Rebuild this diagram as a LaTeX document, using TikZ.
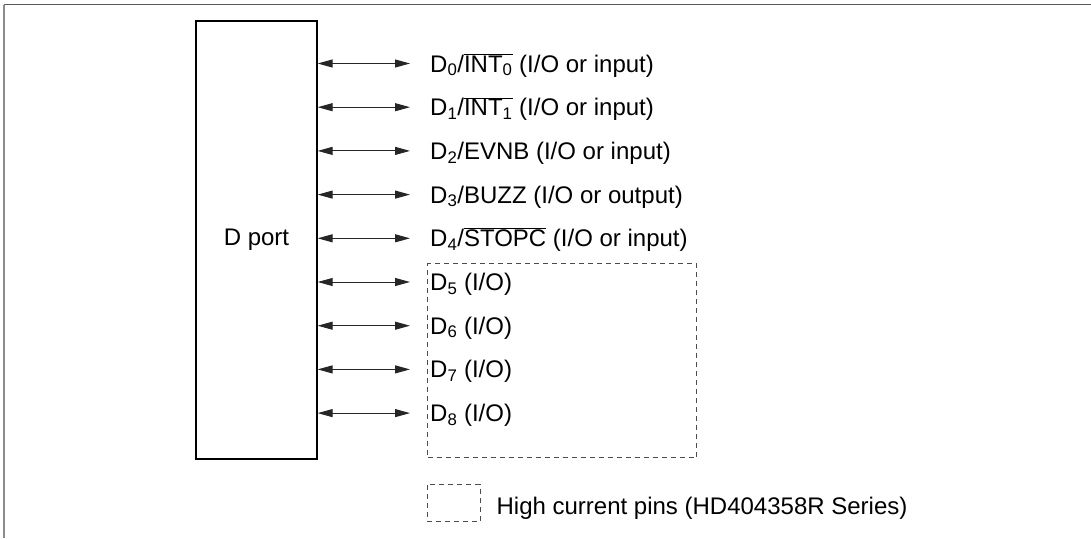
\documentclass[tikz,border=0pt]{standalone}
\usepackage{fontspec}
\setmainfont{Liberation Sans}
\usetikzlibrary{arrows.meta}
\newcommand{\ovl}[1]{$\overline{\mbox{#1}}$}
\begin{document}
\begin{tikzpicture}[x=1pt,y=-1pt,
  font=\fontsize{24}{29}\selectfont,
  frame/.style={line width=1.6pt},
  port/.style={draw, line width=1.3pt, minimum width=121pt, minimum height=438pt, inner sep=0pt},
  pinlbl/.style={anchor=base west, inner sep=0pt},
  link/.style={line width=1pt, black!85, {Triangle[length=15pt,width=8pt]}-{Triangle[length=15pt,width=8pt]}},
  hc/.style={draw=black!70, dash pattern=on 5pt off 4pt, line width=1pt, inner sep=0pt}]
\useasboundingbox (0,0) rectangle (1091,538);
\draw[frame, black!65] (4,4.5) -- (1091,4.5);
\draw[frame, black!45] (4,4.5) -- (4,538);
\node[port] (dport) at (256.5,240) {D port};
\node[hc, minimum width=269pt, minimum height=194pt, anchor=north west] (hcbox) at (427,263) {};
\foreach \k/\t in {
  0/{D\textsubscript{0}/\ovl{INT\textsubscript{0}} (I/O or input)},
  1/{D\textsubscript{1}/\ovl{INT\textsubscript{1}} (I/O or input)},
  2/{D\textsubscript{2}/EVNB (I/O or input)},
  3/{D\textsubscript{3}/BUZZ (I/O or output)},
  4/{D\textsubscript{4}/\ovl{STOPC} (I/O or input)},
  5/{D\textsubscript{5} (I/O)},
  6/{D\textsubscript{6} (I/O)},
  7/{D\textsubscript{7} (I/O)},
  8/{D\textsubscript{8} (I/O)}}{
  \coordinate (c\k) at (410,{63.5+43.7*\k});
  \node[pinlbl] (l\k) at (430,{72+43.7*\k}) {\t};
  \draw[link] (dport.east |- c\k) -- (c\k);
}
\node[hc, minimum width=53pt, minimum height=37.4pt] (legbox) at (453.5,503) {};
\node[pinlbl] (legtext) at (496.4,514.3) {High current pins (HD404358R Series)};
\end{tikzpicture}
\end{document}
